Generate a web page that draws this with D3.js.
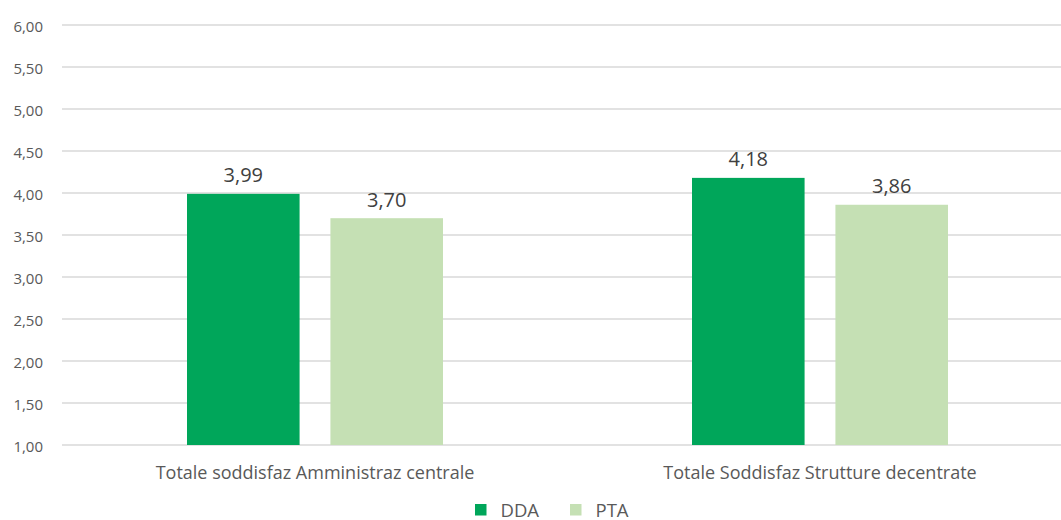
<!DOCTYPE html>
<html><head><meta charset="utf-8">
<script src="https://cdn.jsdelivr.net/npm/d3@7"></script>
<style>body{margin:0;background:#fff}svg{display:block}text{font-family:"Open Sans",Calibri,sans-serif}</style>
</head><body>
<svg id="c" width="1061" height="520"></svg>
<script>
const categories = ["Totale soddisfaz Amministraz centrale", "Totale Soddisfaz Strutture decentrate"];
const seriesNames = ["DDA", "PTA"];
const DDA = [3.99, 4.18];
const PTA = [3.70, 3.86];
const yTicks = [1, 1.5, 2, 2.5, 3, 3.5, 4, 4.5, 5, 5.5, 6];
const colors = {DDA: "#00A65A", PTA: "#C5E0B4"};
const seriesData = {DDA, PTA};

const svg = d3.select("#c");
const fmt = v => d3.format(".2f")(v).replace(".", ",");
const y = d3.scaleLinear().domain([1, 6]).range([445, 25]);
const x = d3.scaleBand().domain(categories).range([62.5, 1072.5]).paddingInner(0).paddingOuter(0);
const xi = d3.scaleBand().domain(seriesNames).range([0, 256]).paddingInner(0.215);

// gridlines
svg.append("g").selectAll("line").data(yTicks).join("line")
  .attr("x1", 62).attr("x2", 1061)
  .attr("y1", d => y(d)).attr("y2", d => y(d))
  .attr("stroke", "#d9d9d9").attr("stroke-width", 1.5);

// y axis labels
const yAxis = d3.axisLeft(y).tickValues(yTicks).tickFormat(fmt).tickSize(0).tickPadding(0);
const ga = svg.append("g").attr("transform", "translate(43,0)").call(yAxis);
ga.select(".domain").remove();
ga.selectAll("text").attr("font-size", 15).attr("fill", "#595959").attr("font-family", "'Open Sans',sans-serif").attr("dy", "0.4em");

// bars
const groups = svg.append("g").selectAll("g").data(categories).join("g")
  .attr("transform", d => `translate(${x(d) + x.bandwidth()/2 - 128},0)`);
groups.each(function(cat, i) {
  const g = d3.select(this);
  seriesNames.forEach(s => {
    const v = seriesData[s][i];
    g.append("rect").attr("x", xi(s)).attr("width", xi.bandwidth())
      .attr("y", y(v)).attr("height", y(1) - y(v)).attr("fill", colors[s]);
    g.append("text").attr("x", xi(s) + xi.bandwidth()/2).attr("y", y(v) - 11.5)
      .attr("text-anchor", "middle").attr("font-size", 20).attr("fill", "#404040").text(fmt(v));
  });
});

// x axis labels
const xAxis = d3.axisBottom(x).tickSize(0).tickPadding(0);
const gx = svg.append("g").attr("transform", "translate(0,478.5)").call(xAxis);
gx.select(".domain").remove();
gx.selectAll("text").attr("font-size", 18).attr("fill", "#595959").attr("dy", 0).attr("y", 0).attr("font-family", "'Open Sans',sans-serif");

// legend
const legendX = [475, 570];
const lg = svg.append("g").selectAll("g").data(seriesNames).join("g")
  .attr("transform", (d, i) => `translate(${legendX[i]},504)`);
lg.append("rect").attr("width", 11.5).attr("height", 11.5).attr("y", 0).attr("fill", d => colors[d]);
lg.append("text").attr("x", 25.5).attr("y", 12.5).attr("font-size", 18.5).attr("fill", "#595959").text(d => d);
</script>
</body></html>
